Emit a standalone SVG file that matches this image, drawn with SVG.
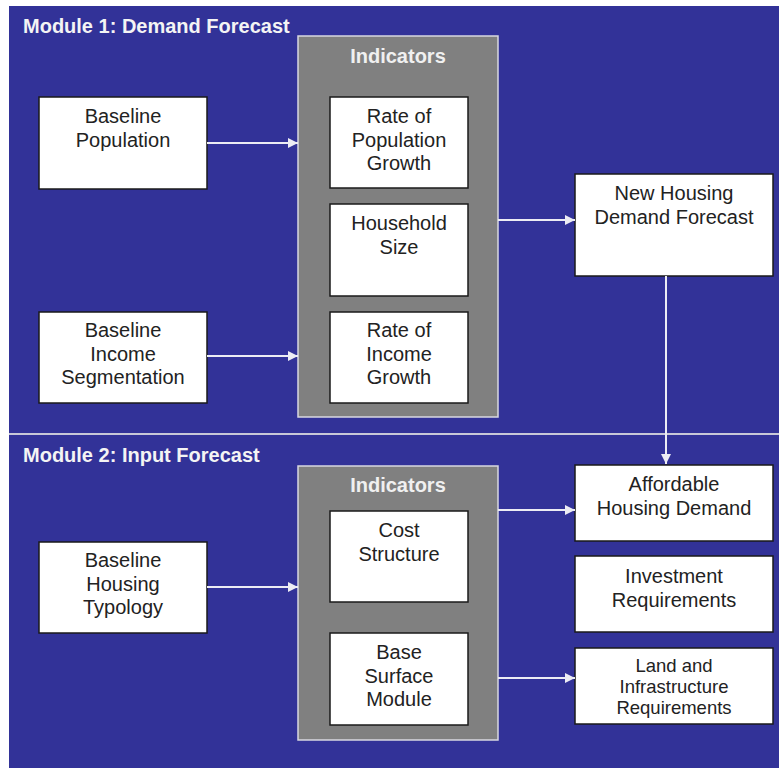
<svg xmlns="http://www.w3.org/2000/svg" width="779" height="770" viewBox="0 0 779 770">
  <style>
    .bg { fill: #323298; }
    .panel { fill: #808080; stroke: #d8d8e0; stroke-width: 1.5; }
    .box { fill: #ffffff; stroke: #1a1a1a; stroke-width: 1.5; }
    .title { font-family: "Liberation Sans", Arial, sans-serif; font-weight: bold; font-size: 20px; fill: #f4f4f4; }
    .head { font-family: "Liberation Sans", Arial, sans-serif; font-weight: bold; font-size: 20px; fill: #f0f0f0; text-anchor: middle; }
    .lbl { font-family: "Liberation Sans", Arial, sans-serif; font-size: 20px; fill: #222222; text-anchor: middle; }
    .lbl-s { font-family: "Liberation Sans", Arial, sans-serif; font-size: 18.5px; fill: #222222; text-anchor: middle; }
    .conn { stroke: #ececf4; stroke-width: 2; fill: none; marker-end: url(#arrow); }
    .divider { stroke: #c8c8d8; stroke-width: 2; }
  </style>
  <defs>
    <marker id="arrow" viewBox="0 0 10 10" refX="10" refY="5" markerWidth="5" markerHeight="5" orient="auto" markerUnits="strokeWidth">
      <path d="M0,0 L10,5 L0,10 Z" fill="#ececf4"/>
    </marker>
  </defs>

  <rect x="0" y="0" width="779" height="770" fill="#ffffff"/>
  <rect class="bg" x="9" y="6" width="770" height="762"/>
  <line class="divider" x1="9" y1="434" x2="779" y2="434"/>

  <text class="title" x="23" y="33">Module 1: Demand Forecast</text>
  <text class="title" x="23" y="462">Module 2: Input Forecast</text>

  <!-- Module 1 -->
  <g id="indicators-1">
    <rect class="panel" x="298" y="36" width="200" height="381"/>
    <text class="head" x="398" y="63">Indicators</text>
  </g>
  <g id="baseline-population">
    <rect class="box" x="39" y="97" width="168" height="92"/>
    <text class="lbl" x="123" y="123">Baseline</text>
    <text class="lbl" x="123" y="146.5">Population</text>
  </g>
  <g id="rate-population-growth">
    <rect class="box" x="330" y="97" width="138" height="91"/>
    <text class="lbl" x="399" y="123">Rate of</text>
    <text class="lbl" x="399" y="146.5">Population</text>
    <text class="lbl" x="399" y="170">Growth</text>
  </g>
  <g id="household-size">
    <rect class="box" x="330" y="204" width="138" height="92"/>
    <text class="lbl" x="399" y="230">Household</text>
    <text class="lbl" x="399" y="253.5">Size</text>
  </g>
  <g id="rate-income-growth">
    <rect class="box" x="330" y="312" width="138" height="91"/>
    <text class="lbl" x="399" y="337">Rate of</text>
    <text class="lbl" x="399" y="360.5">Income</text>
    <text class="lbl" x="399" y="384">Growth</text>
  </g>
  <g id="baseline-income">
    <rect class="box" x="39" y="312" width="168" height="91"/>
    <text class="lbl" x="123" y="337">Baseline</text>
    <text class="lbl" x="123" y="360.5">Income</text>
    <text class="lbl" x="123" y="384">Segmentation</text>
  </g>
  <g id="new-housing-demand">
    <rect class="box" x="575" y="174" width="198" height="102"/>
    <text class="lbl" x="674" y="200">New Housing</text>
    <text class="lbl" x="674" y="223.5">Demand Forecast</text>
  </g>

  <!-- Module 2 -->
  <g id="indicators-2">
    <rect class="panel" x="298" y="466" width="200" height="274"/>
    <text class="head" x="398" y="492">Indicators</text>
  </g>
  <g id="cost-structure">
    <rect class="box" x="330" y="511" width="138" height="91"/>
    <text class="lbl" x="399" y="537">Cost</text>
    <text class="lbl" x="399" y="560.5">Structure</text>
  </g>
  <g id="base-surface-module">
    <rect class="box" x="330" y="633" width="138" height="92"/>
    <text class="lbl" x="399" y="659">Base</text>
    <text class="lbl" x="399" y="682.5">Surface</text>
    <text class="lbl" x="399" y="706">Module</text>
  </g>
  <g id="baseline-housing-typology">
    <rect class="box" x="39" y="542" width="168" height="91"/>
    <text class="lbl" x="123" y="567">Baseline</text>
    <text class="lbl" x="123" y="590.5">Housing</text>
    <text class="lbl" x="123" y="614">Typology</text>
  </g>
  <g id="affordable-housing-demand">
    <rect class="box" x="575" y="465" width="198" height="76"/>
    <text class="lbl" x="674" y="491">Affordable</text>
    <text class="lbl" x="674" y="514.5">Housing Demand</text>
  </g>
  <g id="investment-requirements">
    <rect class="box" x="575" y="556" width="198" height="76"/>
    <text class="lbl" x="674" y="583">Investment</text>
    <text class="lbl" x="674" y="606.5">Requirements</text>
  </g>
  <g id="land-infrastructure-requirements">
    <rect class="box" x="575" y="648" width="198" height="76"/>
    <text class="lbl-s" x="674" y="672">Land and</text>
    <text class="lbl-s" x="674" y="693">Infrastructure</text>
    <text class="lbl-s" x="674" y="714">Requirements</text>
  </g>

  <g id="connectors">
    <line class="conn" x1="207" y1="143" x2="298" y2="143"/>
    <line class="conn" x1="207" y1="356" x2="298" y2="356"/>
    <line class="conn" x1="498" y1="220" x2="575" y2="220"/>
    <line class="conn" x1="666" y1="276" x2="666" y2="464"/>
    <line class="conn" x1="207" y1="587" x2="298" y2="587"/>
    <line class="conn" x1="498" y1="510" x2="575" y2="510"/>
    <line class="conn" x1="498" y1="678" x2="575" y2="678"/>
  </g>
</svg>
